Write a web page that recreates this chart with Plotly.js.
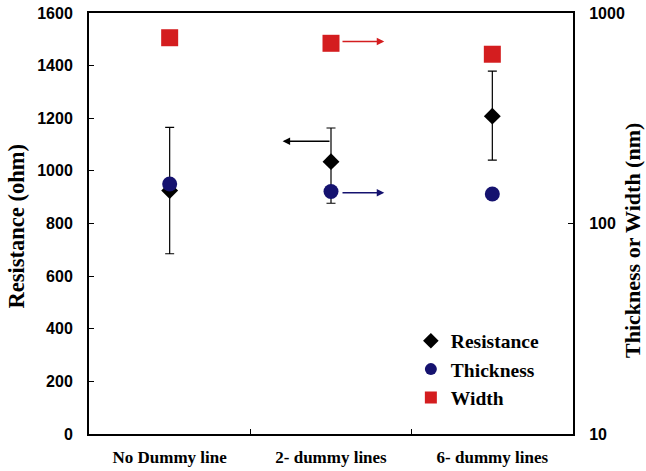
<!DOCTYPE html>
<html>
<head>
<meta charset="utf-8">
<script src="https://cdn.plot.ly/plotly-3.0.1.min.js"></script>
<style>html,body{margin:0;padding:0;background:#fff;}#chart{width:646px;height:471px;}</style>
</head>
<body>
<div id="chart"></div>
<script>
const categories = ['No Dummy line', '2- dummy lines', '6- dummy lines'];
const resistance = [925, 1035, 1208];
const resErrPlus = [240, 128, 171];
const resErrMinus = [240, 158, 167];
const thickness = [154, 142, 138];
const widthNm = [763, 718, 637];
const leftTicks = [0, 200, 400, 600, 800, 1000, 1200, 1400, 1600];
const rightTicks = [10, 100, 1000];

const serif = 'Liberation Serif, Times New Roman, serif';
const sans = 'Liberation Sans, Arial, sans-serif';
const NAVY = '#15126f';
const RED = '#d41d1f';

const traces = [
  {
    x: categories, y: resistance, name: 'Resistance', type: 'scatter', mode: 'markers',
    marker: {symbol: 'diamond', size: 13, color: '#000'},
    error_y: {type: 'data', array: resErrPlus, arrayminus: resErrMinus, color: '#000', thickness: 1.2, width: 4.5},
    xaxis: 'x', yaxis: 'y'
  },
  {
    x: categories, y: thickness, name: 'Thickness', type: 'scatter', mode: 'markers',
    marker: {symbol: 'circle', size: 15, color: NAVY},
    xaxis: 'x', yaxis: 'y2'
  },
  {
    x: categories, y: widthNm, name: 'Width', type: 'scatter', mode: 'markers',
    marker: {symbol: 'square', size: 17, color: RED},
    xaxis: 'x', yaxis: 'y2'
  }
];

function arrow(x, y, ax, ay, yref, color) {
  return {x: x, y: y, ax: ax, ay: ay, xref: 'x', yref: yref, axref: 'x', ayref: yref,
    text: '', showarrow: true, arrowhead: 2, arrowsize: 1, arrowwidth: 1.5, arrowcolor: color};
}
function vtitle(text, x, y, size) {
  return {text: text, x: x, y: y, xref: 'paper', yref: 'paper', xanchor: 'center', yanchor: 'middle',
    textangle: -90, showarrow: false,
    font: {family: serif, size: size, color: '#000', weight: 'bold'}};
}

const layout = {
  width: 646, height: 471,
  margin: {l: 89, r: 73, t: 13, b: 37, pad: 0},
  paper_bgcolor: '#fff', plot_bgcolor: '#fff',
  showlegend: true,
  legend: {
    x: 0.665, y: 0.267, xanchor: 'left', yanchor: 'top',
    font: {family: serif, size: 19.5, color: '#000', weight: 'bold'},
    bgcolor: 'rgba(0,0,0,0)', borderwidth: 0, itemsizing: 'constant'
  },
  xaxis: {
    type: 'category', range: [-0.5, 2.5], showgrid: false, zeroline: false,
    showline: true, linecolor: '#000', linewidth: 2, mirror: true,
    ticks: 'inside', tickson: 'boundaries', ticklen: 5, tickwidth: 1, tickcolor: '#000',
    tickfont: {family: serif, size: 17, color: '#000', weight: 'bold'},
    ticklabelstandoff: 7
  },
  yaxis: {
    range: [0, 1600], tickvals: leftTicks, showgrid: false, zeroline: false,
    showline: true, linecolor: '#000', linewidth: 2,
    ticks: 'inside', ticklen: 5, tickwidth: 1, tickcolor: '#000',
    tickfont: {family: sans, size: 16, color: '#000', weight: 'bold'},
    ticklabelstandoff: 11
  },
  yaxis2: {
    type: 'log', range: [1, 3], overlaying: 'y', side: 'right',
    tickvals: rightTicks, ticktext: rightTicks.map(String), showgrid: false, zeroline: false,
    showline: true, linecolor: '#000', linewidth: 2,
    ticks: 'inside', ticklen: 5, tickwidth: 1, tickcolor: '#000',
    tickfont: {family: sans, size: 16, color: '#000', weight: 'bold'},
    ticklabelstandoff: 11
  },
  annotations: [
    arrow(0.70, 1113, 1.0, 1113, 'y', '#000'),
    arrow(1.33, 2.8646, 1.062, 2.8646, 'y2', RED),
    arrow(1.33, 2.1463, 1.062, 2.1463, 'y2', NAVY),
    vtitle('Resistance (ohm)', -0.1488, 0.4929, 22.5),
    vtitle('Thickness or Width (nm)', 1.1219, 0.4608, 22)
  ]
};

Plotly.newPlot('chart', traces, layout, {displayModeBar: false, staticPlot: true});
</script>
</body>
</html>
